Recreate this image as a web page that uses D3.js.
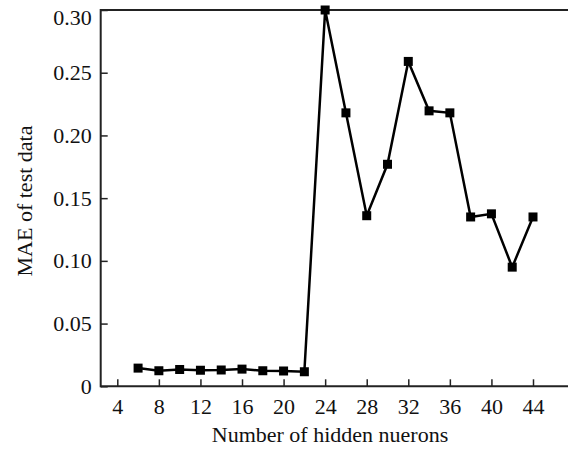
<!DOCTYPE html>
<html><head><meta charset="utf-8">
<script src="https://cdn.jsdelivr.net/npm/d3@7"></script>
<style>body{margin:0;background:#fff}svg{display:block}</style>
</head><body>
<script>
const neurons = [6,8,10,12,14,16,18,20,22,24,26,28,30,32,34,36,38,40,42,44];
const mae = [0.0145,0.0124,0.0134,0.0128,0.013,0.0137,0.0124,0.0122,0.0116,0.30,0.218,0.136,0.177,0.259,0.2196,0.218,0.135,0.1375,0.095,0.135];
const xTicks = [4,8,12,16,20,24,28,32,36,40,44];
const yTicks = [0,0.05,0.10,0.15,0.20,0.25,0.30];
const yTickLabels = ["0","0.05","0.10","0.15","0.20","0.25","0.30"];

(function(){
const W=568,H=450;
const pL=100.7, pR=568, pT=10, pB=386.3;
const svg=d3.select("body").append("svg").attr("width",W).attr("height",H);
const x=d3.scaleLinear().domain([4,44]).range([117.3,533]);
const y=d3.scaleLinear().domain([0,0.30]).range([pB,pT]);
const font="'Liberation Serif','Times New Roman',serif";

svg.append("line").attr("x1",pL).attr("x2",pR).attr("y1",pT).attr("y2",pT).attr("stroke","#222").attr("stroke-width",2);

const xa=svg.append("g").attr("transform",`translate(0,${pB})`)
  .call(d3.axisBottom(x).tickValues(xTicks).tickSizeInner(-7).tickSizeOuter(0).tickPadding(12).tickFormat(d3.format("d")));
xa.select(".domain").remove();
xa.selectAll(".tick line").attr("stroke","#222").attr("stroke-width",1.5);
xa.selectAll("text").attr("font-family",font).attr("font-size",22).attr("fill","#111").attr("dy","0.71em");
svg.append("line").attr("x1",pL).attr("x2",pR).attr("y1",pB).attr("y2",pB).attr("stroke","#222").attr("stroke-width",2);

const ya=svg.append("g").attr("transform",`translate(${pL},0)`)
  .call(d3.axisLeft(y).tickValues(yTicks).tickSizeInner(-7).tickSizeOuter(0).tickPadding(9).tickFormat((d,i)=>yTickLabels[i]));
ya.select(".domain").remove();
ya.selectAll(".tick line").attr("stroke","#222").attr("stroke-width",1.5);
ya.selectAll("text").attr("font-family",font).attr("font-size",22).attr("fill","#111")
  .attr("dy",(d)=> d===0.30 ? "0.65em" : "0.32em");
svg.append("line").attr("x1",pL).attr("x2",pL).attr("y1",pT-1).attr("y2",pB+1).attr("stroke","#222").attr("stroke-width",2);

const pts=neurons.map((n,i)=>[n,mae[i]]);
svg.append("path").datum(pts).attr("fill","none").attr("stroke","#000").attr("stroke-width",2.5)
  .attr("d",d3.line().x(d=>x(d[0])).y(d=>y(d[1])));
svg.selectAll("rect.m").data(pts).enter().append("rect").attr("class","m")
  .attr("x",d=>x(d[0])-4.5).attr("y",d=>y(d[1])-4.5).attr("width",9).attr("height",9).attr("fill","#000");

svg.append("text").attr("x",330).attr("y",442).attr("text-anchor","middle")
  .attr("font-family",font).attr("font-size",22).attr("fill","#111").text("Number of hidden nuerons");
svg.append("text").attr("transform","translate(32,201) rotate(-90)").attr("text-anchor","middle")
  .attr("font-family",font).attr("font-size",22).attr("fill","#111").text("MAE of test data");
})();
</script>
</body></html>
